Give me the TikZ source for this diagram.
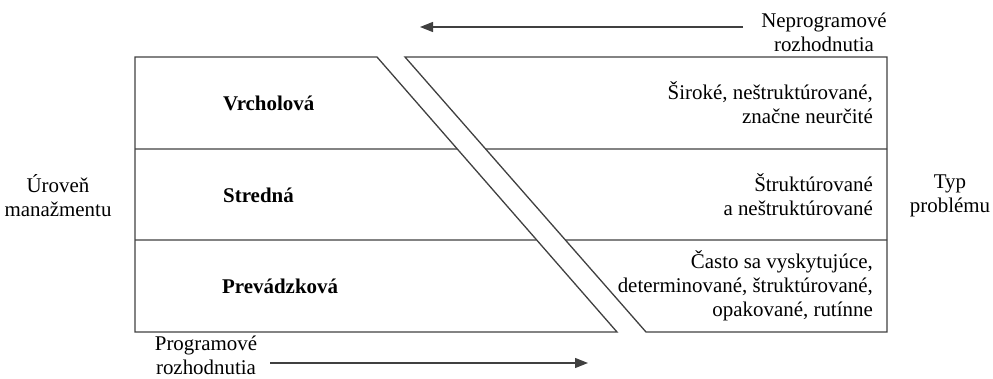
\documentclass[tikz,border=0pt]{standalone}
\usepackage{fontspec}
\setmainfont{Liberation Serif}
\usetikzlibrary{arrows.meta,calc}
\tikzset{
  ln/.style={draw=black!75, line width=1.3bp, line join=miter},
  arr/.style={ln, -{Triangle[length=13bp,width=10bp]}},
  txt/.style={inner sep=0pt, align=center, font=\fontsize{21}{24}\selectfont},
  typ/.style={txt, align=right, anchor=east},
  lvl/.style={inner sep=0pt, anchor=west, font=\fontsize{21}{24}\selectfont\bfseries},
}
\begin{document}
\begin{tikzpicture}[x=1bp,y=-1bp]
\useasboundingbox (0,0) rectangle (993,378);
% left block (management levels)
\coordinate (ltl) at (135,57);
\coordinate (ltr) at (377,57);
\coordinate (lbr) at (617,332);
\coordinate (lbl) at (135,332);
% right block (problem types)
\coordinate (rtl) at (405,57);
\coordinate (rtr) at (887,57);
\coordinate (rbr) at (887,332);
\coordinate (rbl) at (646,332);
\draw[ln] (ltl) -- (ltr) -- (lbr) -- (lbl) -- cycle;
\draw[ln] (rtl) -- (rtr) -- (rbr) -- (rbl) -- cycle;
% row lines
\draw[ln] (135,149) -- ($(ltr)!0.3345!(lbr)$);
\draw[ln] (135,240) -- ($(ltr)!0.6655!(lbr)$);
\draw[ln] ($(rtl)!0.3345!(rbl)$) -- (887,149);
\draw[ln] ($(rtl)!0.6655!(rbl)$) -- (887,240);
% levels
\node[lvl] (vrch) at (223,103) {Vrcholová};
\node[lvl] (stred) at (223,195) {Stredná};
\node[lvl] (prev) at (222,286) {Prevádzková};
% problem types
\node[typ] (sir) at (873,103) {Široké, neštruktúrované,\\ značne neurčité};
\node[typ] (str) at (873,195) {Štruktúrované\\ a neštruktúrované};
\node[typ] (cas) at (873,286) {Často sa vyskytujúce,\\ determinované, štruktúrované,\\ opakované, rutínne};
% side labels
\node[txt] (uroven) at (58,196) {Úroveň\\ manažmentu};
\node[txt] (typprob) at (950,196) {Typ\\ problému};
\node[txt] (neprog) at (824,32) {Neprogramové\\ rozhodnutia};
\node[txt] (prog) at (206,355) {Programové\\ rozhodnutia};
% arrows
\coordinate (nps) at (743,27);
\coordinate (npe) at (420,27);
\coordinate (ps) at (270,363);
\coordinate (pe) at (588,363);
\draw[arr] (nps) -- (npe);
\draw[arr] (ps) -- (pe);
\end{tikzpicture}
\end{document}
